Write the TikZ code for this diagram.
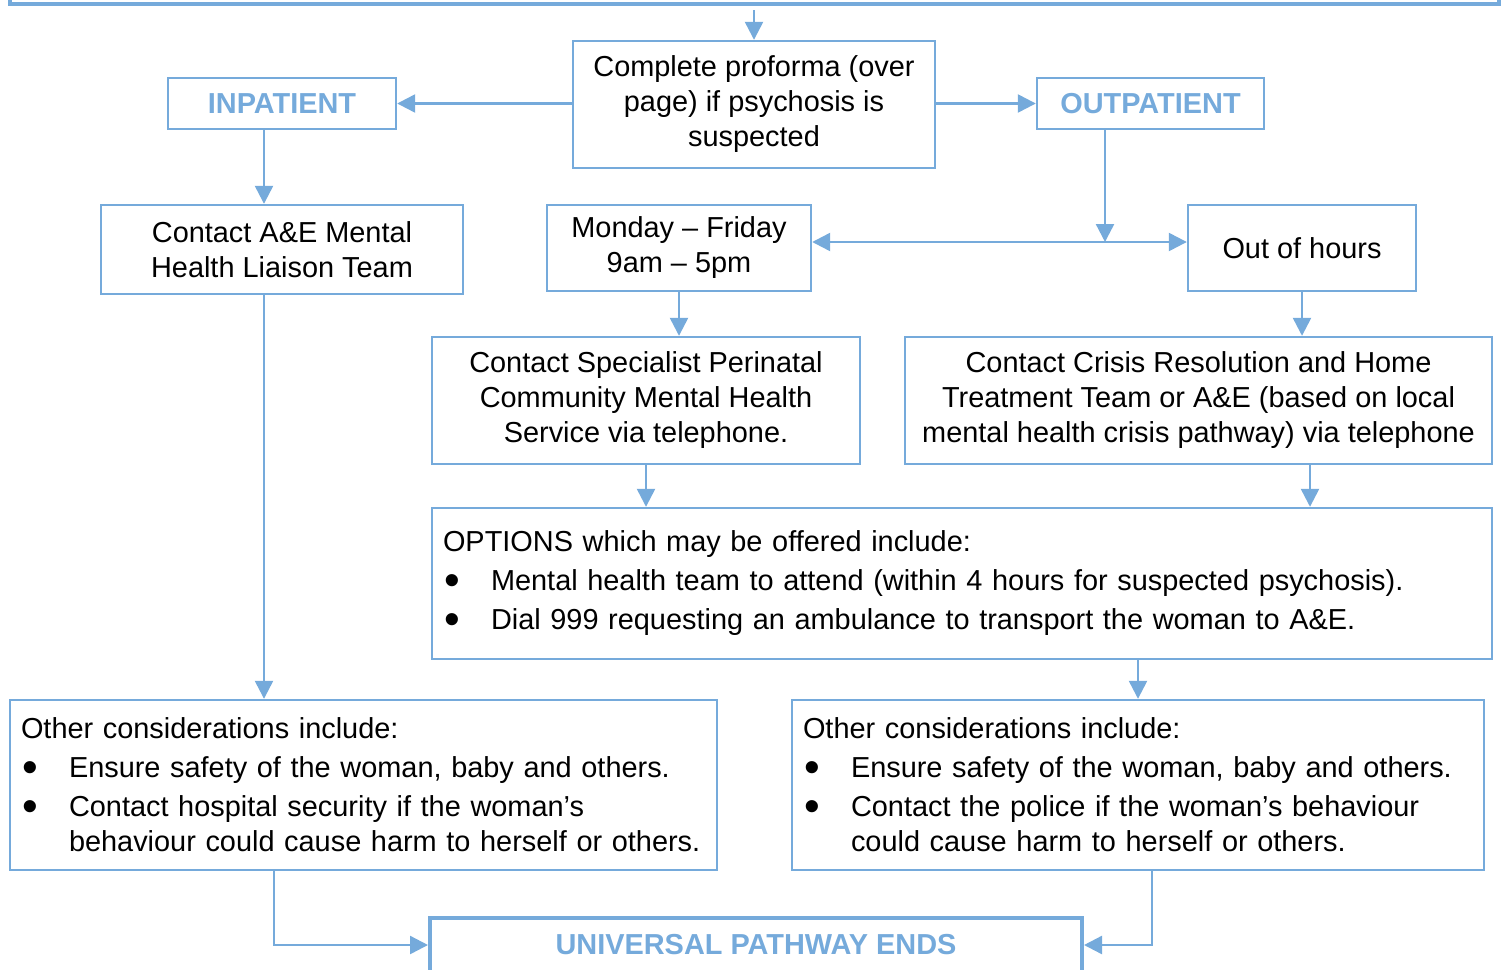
\documentclass[tikz,border=0pt]{standalone}
\usepackage{fontspec}
\setmainfont{Liberation Sans}
\usetikzlibrary{arrows.meta}
\definecolor{pathblue}{RGB}{117,170,219}
\newcommand{\bitem}[1]{\par\vspace{2pt}\hangindent=24pt\hangafter=1\noindent
  \makebox[24pt][l]{\hspace{0.5pt}\raisebox{-2.2pt}{\scalebox{1.55}{\textbullet}}}#1\par}
\tikzset{
  box/.style={draw=pathblue, line width=1.2pt, inner sep=0pt, align=center,
    font=\fontsize{14.45}{17.5}\selectfont},
  listbox/.style={box, align=left, inner xsep=5.5pt},
  heading/.style={box, text=pathblue, font=\fontsize{14.45}{17.5}\selectfont\bfseries},
  endbox/.style={heading, line width=2pt},
  link/.style={draw=pathblue, line width=1.2pt, -{Triangle[length=9pt,width=9pt]}},
}
\begin{document}
\begin{tikzpicture}[x=0.5pt,y=-0.5pt]
  \useasboundingbox (0,0) rectangle (1503,969);
  % boxes
  \node[endbox,minimum width=744.5pt,minimum height=44pt] (start) at (754.5,-40) {};
  \node[box,minimum width=181pt,minimum height=63.5pt] (proforma) at (754,104.5)
    {Complete proforma (over\\page) if psychosis is\\suspected};
  \node[heading,minimum width=114pt,minimum height=25.5pt] (inpat) at (282,103.5) {INPATIENT};
  \node[heading,minimum width=113.5pt,minimum height=25.5pt] (outpat) at (1150.5,103.5) {OUTPATIENT};
  \node[box,minimum width=181pt,minimum height=44.5pt] (liaison) at (282,249.5)
    {Contact A\&E Mental\\Health Liaison Team};
  \node[box,minimum width=132pt,minimum height=43pt] (weekday) at (679,248)
    {Monday – Friday\\9am – 5pm};
  \node[box,minimum width=114pt,minimum height=43pt] (ooh) at (1302,248) {Out of hours};
  \node[box,minimum width=214pt,minimum height=63.5pt] (perinatal) at (646,400.5)
    {Contact Specialist Perinatal\\Community Mental Health\\Service via telephone.};
  \node[box,minimum width=293.5pt,minimum height=63.5pt] (crisis) at (1198.5,400.5)
    {Contact Crisis Resolution and Home\\Treatment Team or A\&E (based on local\\mental health crisis pathway) via telephone};
  \node[listbox,text width=519pt,minimum height=75.5pt] (options) at (962,583.5)
    {OPTIONS which may be offered include:
     \bitem{Mental health team to attend (within 4 hours for suspected psychosis).}
     \bitem{Dial 999 requesting an ambulance to transport the woman to A\&E.}};
  \node[listbox,text width=342.5pt,minimum height=85pt] (otherL) at (363.5,785)
    {Other considerations include:
     \bitem{Ensure safety of the woman, baby and others.}
     \bitem{Contact hospital security if the woman’s\newline \mbox{behaviour could cause harm to herself or others.}}};
  \node[listbox,text width=335pt,minimum height=85pt] (otherR) at (1138,785)
    {Other considerations include:
     \bitem{Ensure safety of the woman, baby and others.}
     \bitem{Contact the police if the woman’s behaviour\newline \mbox{could cause harm to herself or others.}}};
  \node[endbox,minimum width=326pt,minimum height=27pt] (ends) at (756,945) {UNIVERSAL PATHWAY ENDS};
  % connectors
  \coordinate (split) at (1105,242);
  \draw[link,shorten <=2pt] (start.south -| proforma.north) -- (proforma.north);
  \draw[link] (proforma.west |- inpat.east) -- (inpat.east);
  \draw[link] (proforma.east |- outpat.west) -- (outpat.west);
  \draw[link] ([xshift=-9pt]inpat.south) -- ([xshift=-9pt]liaison.north);
  \draw[link] (outpat.south -| split) -- (split);
  \draw[link,{Triangle[length=9pt,width=9pt]}-{Triangle[length=9pt,width=9pt]}]
    ([yshift=3pt]weekday.east) -- ([yshift=3pt]ooh.west);
  \draw[link] (weekday.south) -- (weekday.south |- perinatal.north);
  \draw[link] (ooh.south) -- (ooh.south |- crisis.north);
  \draw[link] (perinatal.south) -- (perinatal.south |- options.north);
  \draw[link] ([xshift=55.75pt]crisis.south) -- ([xshift=55.75pt]crisis.south |- options.north);
  \draw[link] (options.south -| otherR.north) -- (otherR.north);
  \draw[link] ([xshift=-9pt]liaison.south) -- ([xshift=-9pt]liaison.south |- otherL.north);
  \draw[link] ([xshift=-44.75pt]otherL.south) |- (ends.west);
  \draw[link] ([xshift=7pt]otherR.south) |- (ends.east);
\end{tikzpicture}
\end{document}
